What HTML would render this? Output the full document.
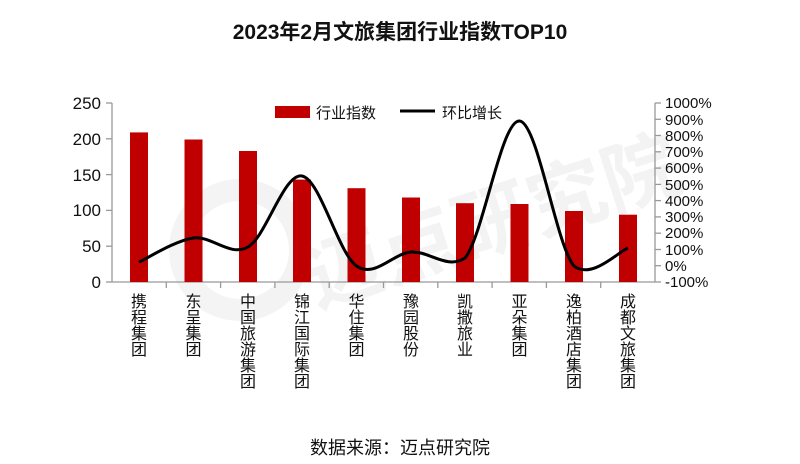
<!DOCTYPE html>
<html><head><meta charset="utf-8"><style>
body{margin:0;background:#fff;}
svg{display:block;font-family:"Liberation Sans","Noto Sans CJK SC",sans-serif;}
</style></head><body>
<svg width="800" height="464" viewBox="0 0 800 464" xmlns="http://www.w3.org/2000/svg">
<rect width="800" height="464" fill="#fff"/>
<g opacity="0.09" fill="#888">
<circle cx="240" cy="250" r="60" fill="none" stroke="#888" stroke-width="22"/>
<text x="290" y="255" font-size="78" font-weight="bold" transform="rotate(-18 470 200)">迈点研究院</text>
</g>
<text x="400" y="39" text-anchor="middle" font-size="21" font-weight="bold" fill="#111">2023年2月文旅集团行业指数TOP10</text>
<g stroke="#999" stroke-width="1.3" fill="none">
<line x1="112" y1="103" x2="112" y2="282"/>
<line x1="112" y1="282" x2="655" y2="282"/>
<line x1="655" y1="103" x2="655" y2="282"/>
<line x1="106" y1="103" x2="112" y2="103"/><line x1="106" y1="138.8" x2="112" y2="138.8"/><line x1="106" y1="174.6" x2="112" y2="174.6"/><line x1="106" y1="210.4" x2="112" y2="210.4"/><line x1="106" y1="246.2" x2="112" y2="246.2"/><line x1="106" y1="282" x2="112" y2="282"/>
<line x1="166.3" y1="282" x2="166.3" y2="288"/><line x1="220.6" y1="282" x2="220.6" y2="288"/><line x1="274.9" y1="282" x2="274.9" y2="288"/><line x1="329.2" y1="282" x2="329.2" y2="288"/><line x1="383.5" y1="282" x2="383.5" y2="288"/><line x1="437.8" y1="282" x2="437.8" y2="288"/><line x1="492.1" y1="282" x2="492.1" y2="288"/><line x1="546.4" y1="282" x2="546.4" y2="288"/><line x1="600.7" y1="282" x2="600.7" y2="288"/>
<line x1="655" y1="103" x2="661" y2="103"/><line x1="655" y1="119.3" x2="661" y2="119.3"/><line x1="655" y1="135.5" x2="661" y2="135.5"/><line x1="655" y1="151.8" x2="661" y2="151.8"/><line x1="655" y1="168.1" x2="661" y2="168.1"/><line x1="655" y1="184.4" x2="661" y2="184.4"/><line x1="655" y1="200.6" x2="661" y2="200.6"/><line x1="655" y1="216.9" x2="661" y2="216.9"/><line x1="655" y1="233.2" x2="661" y2="233.2"/><line x1="655" y1="249.5" x2="661" y2="249.5"/><line x1="655" y1="265.7" x2="661" y2="265.7"/><line x1="655" y1="282" x2="661" y2="282"/>
</g>
<g font-size="17" fill="#111" text-anchor="end">
<text x="101" y="109">250</text><text x="101" y="145">200</text><text x="101" y="181">150</text><text x="101" y="216">100</text><text x="101" y="252">50</text><text x="101" y="288">0</text>
</g>
<g font-size="15" fill="#111">
<text x="665" y="108">1000%</text><text x="665" y="125">900%</text><text x="665" y="141">800%</text><text x="665" y="157">700%</text><text x="665" y="173">600%</text><text x="665" y="190">500%</text><text x="665" y="206">400%</text><text x="665" y="222">300%</text><text x="665" y="238">200%</text><text x="665" y="255">100%</text><text x="665" y="271">0%</text><text x="665" y="287">-100%</text>
</g>
<g fill="#c00000">
<rect x="130" y="132.4" width="18" height="149.6"/>
<rect x="184.5" y="139.5" width="18" height="142.5"/>
<rect x="239" y="151" width="18" height="131"/>
<rect x="293" y="179.6" width="18" height="102.4"/>
<rect x="347.5" y="188.2" width="18" height="93.8"/>
<rect x="402" y="197.5" width="18" height="84.5"/>
<rect x="456" y="203.2" width="18" height="78.8"/>
<rect x="510.5" y="204" width="18" height="78"/>
<rect x="565" y="211" width="18" height="71"/>
<rect x="619" y="214.7" width="18" height="67.3"/>
</g>
<path fill="none" stroke="#000" stroke-width="3" d="M139,262 C148.1,258 175.3,240.5 193.5,238 C211.7,235.5 229.9,257.3 248,247 C266.1,236.7 283.9,172.8 302,176 C320.1,179.2 338.3,253.3 356.5,266 C374.7,278.7 392.9,253.3 411,252 C429.1,250.7 446.9,270 465,258 C483.1,236.2 501.3,119.7 519.5,121 C537.7,122.3 555.9,244.8 574,266 C592.1,280 619,251 628,248"/>
<rect x="275" y="106" width="35" height="12" fill="#c00000"/>
<text x="316" y="118" font-size="15" fill="#111">行业指数</text>
<line x1="400" y1="111" x2="435" y2="111" stroke="#000" stroke-width="3"/>
<text x="442" y="118" font-size="15" fill="#111">环比增长</text>
<g font-size="16" fill="#111" text-anchor="middle">
<text x="139" y="307">携</text><text x="139" y="323">程</text><text x="139" y="339">集</text><text x="139" y="355">团</text>
<text x="193.5" y="307">东</text><text x="193.5" y="323">呈</text><text x="193.5" y="339">集</text><text x="193.5" y="355">团</text>
<text x="248" y="307">中</text><text x="248" y="323">国</text><text x="248" y="339">旅</text><text x="248" y="355">游</text><text x="248" y="371">集</text><text x="248" y="387">团</text>
<text x="302" y="307">锦</text><text x="302" y="323">江</text><text x="302" y="339">国</text><text x="302" y="355">际</text><text x="302" y="371">集</text><text x="302" y="387">团</text>
<text x="356.5" y="307">华</text><text x="356.5" y="323">住</text><text x="356.5" y="339">集</text><text x="356.5" y="355">团</text>
<text x="411" y="307">豫</text><text x="411" y="323">园</text><text x="411" y="339">股</text><text x="411" y="355">份</text>
<text x="465" y="307">凯</text><text x="465" y="323">撒</text><text x="465" y="339">旅</text><text x="465" y="355">业</text>
<text x="519.5" y="307">亚</text><text x="519.5" y="323">朵</text><text x="519.5" y="339">集</text><text x="519.5" y="355">团</text>
<text x="574" y="307">逸</text><text x="574" y="323">柏</text><text x="574" y="339">酒</text><text x="574" y="355">店</text><text x="574" y="371">集</text><text x="574" y="387">团</text>
<text x="628" y="307">成</text><text x="628" y="323">都</text><text x="628" y="339">文</text><text x="628" y="355">旅</text><text x="628" y="371">集</text><text x="628" y="387">团</text>
</g>
<text x="400" y="454" text-anchor="middle" font-size="18" fill="#111">数据来源：迈点研究院</text>
</svg>
</body></html>
